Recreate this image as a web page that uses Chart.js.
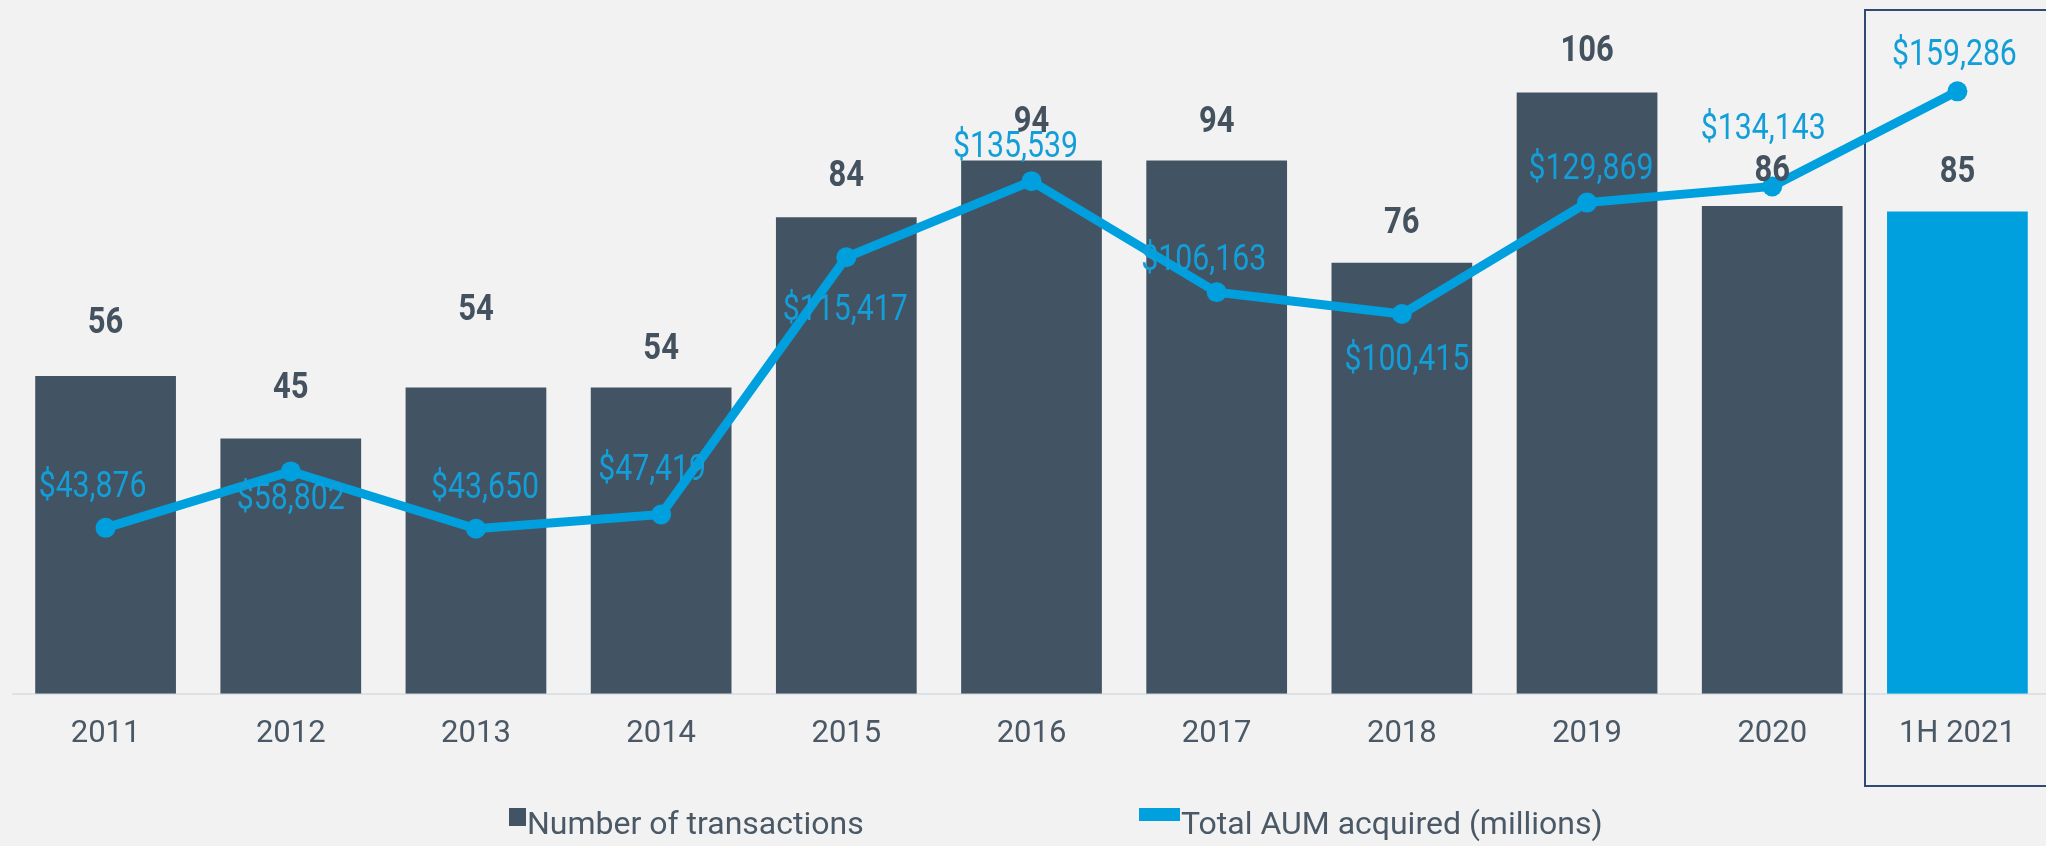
<!DOCTYPE html>
<html>
<head>
<meta charset="utf-8">
<script src="https://cdn.jsdelivr.net/npm/chart.js@4.4.0/dist/chart.umd.min.js"></script>
<style>
  html, body { margin: 0; padding: 0; background: #f2f2f2; }
  #wrap { position: relative; width: 2046px; height: 846px; overflow: hidden; }
  canvas { position: absolute; left: 0; top: 0; }
  .legend-box { position: absolute; }
  .legend-text {
    position: absolute; top: 806px; line-height: 34px;
    font-family: Roboto, "Liberation Sans", sans-serif; font-size: 32px; color: #4b5966;
    white-space: nowrap;
  }
</style>
</head>
<body>
<div id="wrap">
  <canvas id="aumChart" width="2060" height="846"></canvas>
  <div class="legend-box" style="left:509px; top:808px; width:17px; height:18px; background:#425463;"></div>
  <div class="legend-text" style="left:527px;">Number of transactions</div>
  <div class="legend-box" style="left:1139px; top:808px; width:41px; height:13px; background:#00a0df;"></div>
  <div class="legend-text" style="left:1181px;">Total AUM acquired (millions)</div>
</div>
<script>
const categories = ['2011', '2012', '2013', '2014', '2015', '2016', '2017', '2018', '2019', '2020', '1H 2021'];
const transactions = [56, 45, 54, 54, 84, 94, 94, 76, 106, 86, 85];
const aumMillions = [43876, 58802, 43650, 47419, 115417, 135539, 106163, 100415, 129869, 134143, 159286];

// label nudges (px)
const barLabelLift = [52, 50, 76, 37, 40, 38, 38, 39, 40, 34, 39];
const aumLabelNudge = [[-13, -40], [0, 29], [9, -40], [-9, -43], [-1, 54], [-16, -33],
                       [-13, -31], [5, 47], [4, -33], [-9, -56], [-3, -35]];

const SLATE = '#425463';
const BLUE = '#00a0df';

// condensed look: draw Roboto squeezed horizontally
function squeezedText(ctx, txt, x, y, sx) {
    ctx.save();
    ctx.translate(x, y);
    ctx.scale(sx, 1);
    ctx.fillText(txt, 0, 0);
    ctx.restore();
}

const labelPlugin = {
    id: 'labels',
    beforeDatasetsDraw(chart) {
        // outline around the half-year column
        const { ctx, scales: { x } } = chart;
        const half = (x.getPixelForValue(1) - x.getPixelForValue(0)) / 2;
        const left = Math.round(x.getPixelForValue(categories.length - 1) - half);
        ctx.save();
        ctx.strokeStyle = '#2f4b73';
        ctx.lineWidth = 2;
        ctx.strokeRect(left, 10, chart.width - left + 5, 776);
        ctx.restore();
    },
    afterDatasetsDraw(chart) {
        const { ctx } = chart;
        const bars = chart.getDatasetMeta(0).data;
        const pts = chart.getDatasetMeta(1).data;
        ctx.save();
        ctx.textAlign = 'center';
        ctx.textBaseline = 'middle';

        ctx.font = 'bold 36px Roboto, sans-serif';
        ctx.fillStyle = '#44525f';
        bars.forEach((b, i) => {
            squeezedText(ctx, String(transactions[i]), b.x, b.y - barLabelLift[i], 0.86);
        });

        ctx.font = '36px Roboto, sans-serif';
        ctx.fillStyle = '#129ed9';
        pts.forEach((p, i) => {
            const txt = '$' + aumMillions[i].toLocaleString('en-US');
            squeezedText(ctx, txt, p.x + aumLabelNudge[i][0], p.y + aumLabelNudge[i][1], 0.84);
        });
        ctx.restore();
    }
};

new Chart(document.getElementById('aumChart'), {
    data: {
        labels: categories,
        datasets: [{
            type: 'bar',
            label: 'Number of transactions',
            data: transactions,
            yAxisID: 'y',
            backgroundColor: c => c.dataIndex === categories.length - 1 ? BLUE : SLATE,
            categoryPercentage: 0.76,
            barPercentage: 1,
            order: 1
        }, {
            type: 'line',
            label: 'Total AUM acquired (millions)',
            data: aumMillions,
            yAxisID: 'y1',
            borderColor: BLUE,
            backgroundColor: BLUE,
            borderWidth: 9,
            pointRadius: 10,
            pointBorderWidth: 0,
            pointBackgroundColor: BLUE,
            tension: 0,
            order: 0
        }]
    },
    options: {
        responsive: false,
        animation: false,
        layout: { padding: { left: 13, right: 1, top: 13, bottom: 71 } },
        plugins: {
            legend: { display: false },
            tooltip: { enabled: false }
        },
        scales: {
            x: {
                grid: { display: false, drawTicks: false },
                border: { display: true, color: '#dde2e7', width: 2 },
                ticks: {
                    color: '#4b5966',
                    font: { family: 'Roboto, "Liberation Sans", sans-serif', size: 31 },
                    padding: 22
                }
            },
            y: { display: false, min: 0, max: 120 },
            y1: { display: false, min: 0, max: 180000, position: 'right' }
        }
    },
    plugins: [labelPlugin]
});
</script>
</body>
</html>
